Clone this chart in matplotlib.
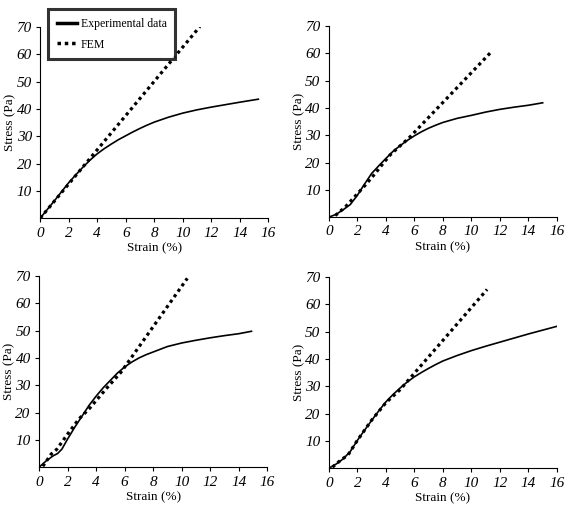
import numpy as np
import matplotlib
matplotlib.use("Agg")
import matplotlib.pyplot as plt

plt.rcParams['font.family'] = ['Liberation Serif', 'DejaVu Serif']

# strain (%) / stress (Pa)
exp_x_a = [0, 0.5, 1, 1.5, 2, 2.5, 3, 3.5, 4, 4.5, 5, 5.5, 6, 6.5, 7, 7.5, 8, 9, 10, 11, 12, 13, 14, 15.3]
exp_y_a = [0, 3.2, 6.4, 9.7, 13.0, 15.9, 18.7, 21.3, 23.6, 25.5, 27.2, 28.8, 30.2, 31.6, 32.9, 34.1, 35.2, 37.0, 38.5, 39.7, 40.7, 41.6, 42.5, 43.6]
fem_x_a = [0, 11.2]
fem_y_a = [0, 70.2]

exp_x_b = [0, 0.5, 1, 1.5, 2, 2.5, 3, 3.5, 4, 4.5, 5, 5.5, 6, 6.5, 7, 7.5, 8, 9, 10, 11, 12, 13, 14, 15]
exp_y_b = [0, 1.0, 2.7, 4.6, 8.0, 12.1, 16.0, 18.8, 21.5, 24.1, 26.2, 28.1, 29.8, 31.3, 32.6, 33.7, 34.7, 36.2, 37.3, 38.5, 39.5, 40.3, 41.0, 41.9]
fem_x_b = [0.45, 1.15, 1.8, 2.55, 3.25, 3.7, 4.3, 4.8, 5.6, 11.4]
fem_y_b = [0.6, 3.7, 7.4, 11.7, 16.0, 19.0, 22.8, 25.2, 28.9, 60.6]

exp_x_c = [0, 0.5, 1, 1.3, 1.6, 2, 2.5, 3, 3.5, 4, 4.5, 5, 5.5, 6, 6.5, 7, 7.5, 8, 9, 10, 11, 12, 13, 14, 14.9]
exp_y_c = [0, 2.3, 4.2, 5.0, 6.6, 10.3, 14.6, 18.6, 22.6, 26.0, 29.1, 31.8, 34.5, 36.7, 38.5, 40.0, 41.2, 42.2, 44.2, 45.5, 46.5, 47.4, 48.2, 48.9, 49.8]
fem_x_c = [0, 0.85, 1.25, 2.0, 2.8, 3.5, 4.2, 4.7, 5.75, 10.4]
fem_y_c = [-1.7, 4.8, 6.6, 12.1, 17.7, 21.3, 25.6, 28.7, 34.8, 69.2]

exp_x_d = [0, 0.5, 1, 1.5, 2, 2.5, 3, 3.5, 4, 4.5, 5, 5.5, 6, 6.5, 7, 7.5, 8, 9, 10, 11, 12, 13, 14, 15, 16]
exp_y_d = [0, 1.5, 3.4, 6.1, 10.2, 13.9, 17.5, 21.0, 24.3, 27.0, 29.4, 31.6, 33.5, 35.1, 36.6, 38.0, 39.3, 41.3, 43.1, 44.7, 46.2, 47.7, 49.2, 50.6, 52.0]
fem_x_d = [0.25, 0.8, 1.35, 2.0, 3.0, 4.0, 5.0, 11.1]
fem_y_d = [0.4, 2.8, 4.9, 10.2, 17.6, 24.0, 28.8, 65.5]

panels = [
    (exp_x_a, exp_y_a, fem_x_a, fem_y_a, [0.071, 0.582]),
    (exp_x_b, exp_y_b, fem_x_b, fem_y_b, [0.581, 0.584]),
    (exp_x_c, exp_y_c, fem_x_c, fem_y_c, [0.069, 0.105]),
    (exp_x_d, exp_y_d, fem_x_d, fem_y_d, [0.581, 0.103]),
]

fig = plt.figure(figsize=(5.66, 5.22), dpi=100)

for i, (ex, ey, fx, fy, pos) in enumerate(panels):
    ax = fig.add_axes([pos[0], pos[1], 0.403, 0.366])
    ax.plot(ex, ey, color='black', lw=1.2, label='Experimental data', solid_joinstyle='round')
    ax.plot(fx, fy, color='black', lw=2.3, linestyle=(0, (1, 1.1)), label='FEM')
    ax.set_xlim(0, 16)
    ax.set_ylim(0, 70)
    ax.set_xticks(np.arange(0, 17, 2))
    ax.set_yticks(np.arange(10, 71, 10))
    for lab in ax.get_xticklabels() + ax.get_yticklabels():
        lab.set_fontstyle('italic')
        lab.set_fontsize(11)
    ax.tick_params(length=3, width=0.8, pad=3)
    ax.spines['top'].set_visible(False)
    ax.spines['right'].set_visible(False)
    ax.spines['left'].set_linewidth(0.8)
    ax.spines['bottom'].set_linewidth(0.8)
    ax.set_xlabel('Strain (%)', fontsize=9.5, labelpad=2)
    ax.set_ylabel('Stress (Pa)', fontsize=9.5, labelpad=0)
    if i == 0:
        leg = ax.legend(loc='upper left', bbox_to_anchor=(0.085, 0.983), bbox_transform=fig.transFigure,
                        frameon=True, fancybox=False, fontsize=8.5, handlelength=1.7,
                        borderpad=0.75, borderaxespad=0, labelspacing=0.75, handletextpad=0.3)
        leg.get_frame().set_edgecolor('black')
        leg.get_frame().set_linewidth(2.2)
        for h in leg.get_lines():
            h.set_linewidth(2.5)

fig.savefig('out.png', dpi=100)
